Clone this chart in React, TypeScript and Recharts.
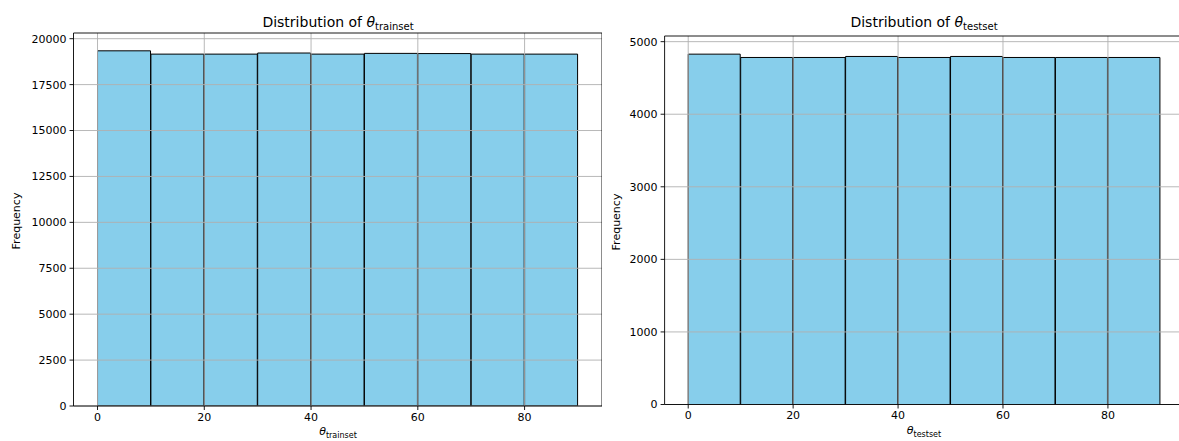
import React from "react";
import { ComposedChart, Bar, XAxis, YAxis, ReferenceLine } from "recharts";

// histogram bins (degrees) and counts
const binEdges = [0, 10, 20, 30, 40, 50, 60, 70, 80, 90];
const trainCounts = [19340, 19160, 19160, 19220, 19160, 19200, 19190, 19160, 19160];
const testCounts = [4828, 4782, 4782, 4796, 4782, 4796, 4782, 4782, 4782];

const xTicks = [0, 20, 40, 60, 80];
const trainYTicks = [0, 2500, 5000, 7500, 10000, 12500, 15000, 17500, 20000];
const testYTicks = [0, 1000, 2000, 3000, 4000, 5000];

const xDomain: [number, number] = [-4.5, 94.5];
const FONT = "'DejaVu Sans', sans-serif";
const GRID = "#b0b0b0";

const toBins = (counts: number[]) =>
  counts.map((c, i) => ({ x: (binEdges[i] + binEdges[i + 1]) / 2, count: c }));

type HistProps = {
  counts: number[];
  yTicks: number[];
  yMax: number;
  width: number;
  margin: { top: number; right: number; left: number; bottom: number };
  yAxisWidth: number;
};

const Hist = ({ counts, yTicks, yMax, width, margin, yAxisWidth }: HistProps) => {
  const tickStyle = { fontSize: 11, fill: "#000", fontFamily: FONT };
  return (
    <ComposedChart
      width={width}
      height={441}
      data={toBins(counts)}
      margin={margin}
      barCategoryGap={0}
      barGap={0}
    >
      <XAxis
        dataKey="x"
        type="number"
        domain={xDomain}
        allowDataOverflow
        ticks={xTicks}
        height={30}
        tickSize={4}
        tickMargin={3}
        tick={tickStyle}
        axisLine={{ stroke: "#000", strokeWidth: 0.9 }}
        tickLine={{ stroke: "#000", strokeWidth: 0.9 }}
      />
      <YAxis
        type="number"
        domain={[0, yMax]}
        allowDataOverflow
        ticks={yTicks}
        width={yAxisWidth}
        tickSize={4}
        tickMargin={3}
        tick={tickStyle}
        axisLine={{ stroke: "#000", strokeWidth: 0.9 }}
        tickLine={{ stroke: "#000", strokeWidth: 0.9 }}
      />
      <Bar
        dataKey="count"
        fill="#87CEEB"
        stroke="#000"
        strokeWidth={1}
        isAnimationActive={false}
      />
      {/* grid sits on top of the bars, like matplotlib's default */}
      {yTicks.map((t) => (
        <ReferenceLine key={"y" + t} y={t} stroke={GRID} strokeWidth={0.9} />
      ))}
      {xTicks.map((t) => (
        <ReferenceLine key={"x" + t} x={t} stroke={GRID} strokeWidth={0.9} />
      ))}
      <ReferenceLine y={yMax} stroke="#000" strokeWidth={0.9} />
      <ReferenceLine x={xDomain[1]} stroke="#000" strokeWidth={0.9} />
    </ComposedChart>
  );
};

const Title = ({ sub, cx }: { sub: string; cx: number }) => (
  <div
    style={{
      position: "absolute",
      top: 15,
      left: cx - 150,
      width: 300,
      textAlign: "center",
      fontSize: 14,
      lineHeight: "14px",
      whiteSpace: "nowrap",
    }}
  >
    Distribution of <span style={{ fontStyle: "italic" }}>θ</span>
    <span style={{ fontSize: 10, position: "relative", top: 3 }}>{sub}</span>
  </div>
);

const XLabel = ({ sub, cx, top }: { sub: string; cx: number; top: number }) => (
  <div
    style={{
      position: "absolute",
      top,
      left: cx - 60,
      width: 120,
      textAlign: "center",
      fontSize: 11,
      lineHeight: "11px",
      whiteSpace: "nowrap",
    }}
  >
    <span style={{ fontStyle: "italic" }}>θ</span>
    <span style={{ fontSize: 8, position: "relative", top: 3 }}>{sub}</span>
  </div>
);

const YLabel = ({ cx, cy }: { cx: number; cy: number }) => (
  <div
    style={{
      position: "absolute",
      left: cx - 40,
      top: cy - 6,
      width: 80,
      textAlign: "center",
      fontSize: 11,
      lineHeight: "12px",
      transform: "rotate(-90deg)",
    }}
  >
    Frequency
  </div>
);

export default function App() {
  return (
    <div
      style={{
        position: "fixed",
        left: 0,
        top: 0,
        width: 1179,
        height: 441,
        background: "#fff",
        fontFamily: FONT,
        color: "#000",
        overflow: "hidden",
      }}
    >
      <div style={{ position: "absolute", left: 0, top: 0, width: 602, height: 441, overflow: "hidden" }}>
        <Hist
          counts={trainCounts}
          yTicks={trainYTicks}
          yMax={20310}
          width={606}
          yAxisWidth={60}
          margin={{ top: 33, right: 4, left: 13.5, bottom: 5 }}
        />
      </div>
      <div style={{ position: "absolute", left: 602, top: 0, width: 577, height: 441, overflow: "hidden" }}>
        <Hist
          counts={testCounts}
          yTicks={testYTicks}
          yMax={5078}
          width={590}
          yAxisWidth={50}
          margin={{ top: 36, right: 8, left: 12.6, bottom: 6.5 }}
        />
      </div>
      <Title sub="trainset" cx={338} />
      <Title sub="testset" cx={924} />
      <XLabel sub="trainset" cx={338} top={426} />
      <XLabel sub="testset" cx={924} top={425} />
      <YLabel cx={17} cy={221} />
      <YLabel cx={617} cy={222} />
    </div>
  );
}
